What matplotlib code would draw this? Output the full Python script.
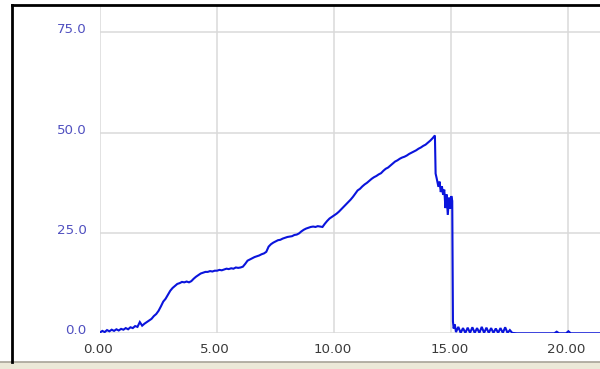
import matplotlib
matplotlib.use("Agg")
import matplotlib.pyplot as plt
import matplotlib.transforms as mtransforms
from matplotlib.lines import Line2D
from matplotlib.patches import Rectangle

# ---- data ----
time_s = [
    0.0, 0.1, 0.2, 0.3, 0.4, 0.5, 0.6, 0.7, 0.8, 0.9,
    1.0, 1.1, 1.2, 1.3, 1.4, 1.5, 1.6, 1.7, 1.8, 1.9,
    2.0, 2.1, 2.2, 2.3, 2.4, 2.5, 2.6, 2.7, 2.8, 2.9,
    3.0, 3.1, 3.2, 3.3, 3.4, 3.5, 3.6, 3.7, 3.8, 3.9,
    4.0, 4.1, 4.2, 4.3, 4.4, 4.5, 4.6, 4.7, 4.8, 4.9,
    5.0, 5.1, 5.2, 5.3, 5.4, 5.5, 5.6, 5.7, 5.8, 5.9,
    6.0, 6.1, 6.2, 6.3, 6.4, 6.5, 6.6, 6.7, 6.8, 6.9,
    7.0, 7.1, 7.2, 7.3, 7.4, 7.5, 7.6, 7.7, 7.8, 7.9,
    8.0, 8.1, 8.2, 8.3, 8.4, 8.5, 8.6, 8.7, 8.8, 8.9,
    9.0, 9.1, 9.2, 9.3, 9.4, 9.5, 9.6, 9.7, 9.8, 9.9,
    10.0, 10.1, 10.2, 10.3, 10.4, 10.5, 10.6, 10.7, 10.8, 10.9,
    11.0, 11.1, 11.2, 11.3, 11.4, 11.5, 11.6, 11.7, 11.8, 11.9,
    12.0, 12.1, 12.2, 12.3, 12.4, 12.5, 12.6, 12.7, 12.8, 12.9,
    13.0, 13.1, 13.2, 13.3, 13.4, 13.5, 13.6, 13.7, 13.8, 13.9,
    14.0, 14.1, 14.2, 14.3, 14.33, 14.38, 14.45, 14.5, 14.55, 14.6,
    14.65, 14.7, 14.75, 14.8, 14.85, 14.9, 14.95, 15.0, 15.04, 15.07,
    15.1, 15.15, 15.2, 15.3, 15.4, 15.5, 15.6, 15.7, 15.8, 15.9,
    16.0, 16.1, 16.2, 16.3, 16.4, 16.5, 16.6, 16.7, 16.8, 16.9,
    17.0, 17.1, 17.2, 17.3, 17.4, 17.5, 17.6, 17.8, 18.5, 19.4,
    19.5, 19.6, 19.9, 20.0, 20.1, 20.9, 21.4,
]
force = [
    0.2, 0.6, 0.3, 0.8, 0.5, 0.9, 0.6, 1.0, 0.7, 1.1,
    0.9, 1.3, 1.0, 1.5, 1.3, 1.8, 1.6, 2.8, 1.9, 2.4,
    2.8, 3.2, 3.6, 4.3, 4.8, 5.6, 6.7, 7.9, 8.6, 9.6,
    10.6, 11.3, 11.8, 12.3, 12.5, 12.8, 12.7, 12.9, 12.7, 13.0,
    13.6, 14.1, 14.5, 14.9, 15.1, 15.3, 15.3, 15.5, 15.4, 15.6,
    15.6, 15.8, 15.7, 15.9, 16.1, 16.0, 16.2, 16.1, 16.4, 16.3,
    16.4, 16.6, 17.3, 18.1, 18.4, 18.7, 19.0, 19.2, 19.4, 19.7,
    19.9, 20.3, 21.6, 22.2, 22.6, 22.9, 23.2, 23.3, 23.6, 23.8,
    24.0, 24.1, 24.2, 24.5, 24.6, 24.9, 25.4, 25.8, 26.1, 26.3,
    26.5, 26.6, 26.5, 26.7, 26.6, 26.5, 27.3, 28.0, 28.6, 29.0,
    29.4, 29.8, 30.3, 30.9, 31.5, 32.1, 32.7, 33.3, 34.0, 34.8,
    35.6, 36.0, 36.6, 37.1, 37.5, 38.0, 38.5, 38.9, 39.2, 39.6,
    39.9, 40.5, 41.0, 41.3, 41.8, 42.3, 42.8, 43.1, 43.5, 43.8,
    44.0, 44.3, 44.7, 45.0, 45.3, 45.6, 46.0, 46.3, 46.7, 47.0,
    47.5, 48.0, 48.6, 49.3, 39.8, 38.5, 36.5, 37.8, 35.2, 36.6,
    34.5, 35.8, 31.2, 34.6, 29.5, 33.8, 31.0, 34.2, 33.0, 3.0,
    1.2, 2.2, 0.3, 1.6, 0.1, 1.3, 0.1, 1.4, 0.1, 1.5,
    0.1, 1.3, 0.1, 1.6, 0.1, 1.4, 0.1, 1.3, 0.1, 1.2,
    0.1, 1.3, 0.1, 1.5, 0.1, 0.8, 0.1, 0.0, 0.0, 0.0,
    0.4, 0.0, 0.0, 0.5, 0.0, 0.0, 0.0,
]
x_ticks = [0, 5, 10, 15, 20]
x_tick_labels = ["0.00", "5.00", "10.00", "15.00", "20.00"]
y_ticks = [0, 25, 50, 75]
y_tick_labels = ["0.0", "25.0", "50.0", "75.0"]

W, H = 600, 369
fig = plt.figure(figsize=(W / 100, H / 100), dpi=100)
fig.patch.set_facecolor("white")

ax = fig.add_axes([100 / W, (H - 333.3) / H, 500 / W, (333.3 - 5) / H])
ax.set_facecolor("white")
ax.plot(time_s, force, color="#0a14dc", lw=1.5, solid_joinstyle="miter")
ax.set_xlim(0, 500 / 23.42)
ax.set_ylim(0, (333.3 - 5) / 4.013)
ax.set_xticks(x_ticks)
ax.set_xticklabels(x_tick_labels)
ax.set_yticks(y_ticks)
ax.set_yticklabels(y_tick_labels)
ax.grid(True, color="#dadada", lw=1.1)
ax.set_axisbelow(True)
for s in ax.spines.values():
    s.set_visible(False)
ax.tick_params(axis="both", length=0)
ax.tick_params(axis="x", pad=7, labelsize=9.6, labelcolor="#3a3a3a")
ax.tick_params(axis="y", pad=9.5, labelsize=9.6, labelcolor="#5050c0")
# raise y tick labels slightly, as in the reference
off = mtransforms.ScaledTranslation(0, 4 / 100, fig.dpi_scale_trans)
for lab in ax.get_yticklabels():
    lab.set_transform(lab.get_transform() + off)
for lab in ax.get_xticklabels():
    lab.set_transform(lab.get_transform() + mtransforms.ScaledTranslation(-2 / 100, 0, fig.dpi_scale_trans))

# window frame
ft = fig.transFigure
fig.add_artist(Rectangle((0, 0), 1, (H - 362) / H, transform=ft,
                         facecolor="#ece9d8", edgecolor="none"))
fig.add_artist(Line2D([0, 1], [(H - 362) / H] * 2, transform=ft, color="#a8a498", lw=1.2))
fig.add_artist(Line2D([12 / W, 12 / W], [(H - 362) / H, (H - 5) / H], transform=ft, color="black", lw=2))
fig.add_artist(Line2D([12 / W, 1], [(H - 5) / H] * 2, transform=ft, color="black", lw=2))

fig.savefig("out.png", dpi=100)
